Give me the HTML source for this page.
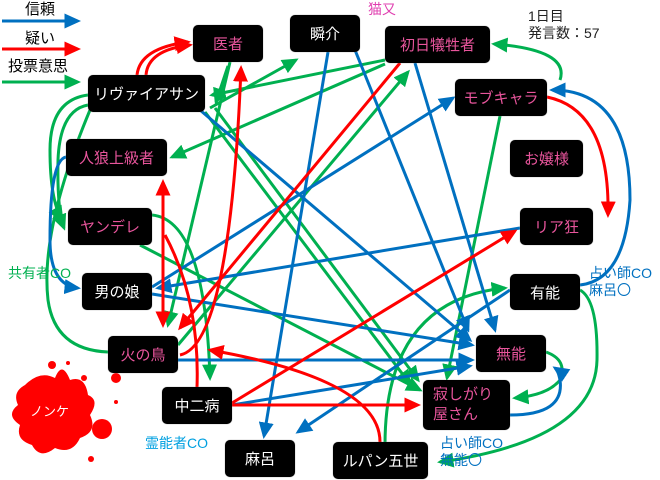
<!DOCTYPE html>
<html><head><meta charset="utf-8"><style>
html,body{margin:0;padding:0;background:#fff;}
body{width:660px;height:480px;overflow:hidden;position:relative;font-family:"Liberation Sans","Noto Sans CJK JP",sans-serif;}
svg{position:absolute;left:0;top:0;}
.n{position:absolute;background:#000;border-radius:5px;color:#fff;font-size:15px;display:flex;align-items:center;justify-content:center;box-shadow:0 0 1px #888;}
.p{color:#e8559c;}
.t{position:absolute;font-size:14px;white-space:nowrap;line-height:17px;}
</style></head><body>
<svg width="660" height="480" viewBox="0 0 660 480">
<defs>
<marker id="b" markerWidth="5.5" markerHeight="5" refX="4.5" refY="2.5" orient="auto" markerUnits="strokeWidth"><path d="M0,0L5.5,2.5L0,5z" fill="#0070c0"/></marker>
<marker id="r" markerWidth="5.5" markerHeight="5" refX="4.5" refY="2.5" orient="auto" markerUnits="strokeWidth"><path d="M0,0L5.5,2.5L0,5z" fill="#ff0000"/></marker>
<marker id="g" markerWidth="5.5" markerHeight="5" refX="4.5" refY="2.5" orient="auto" markerUnits="strokeWidth"><path d="M0,0L5.5,2.5L0,5z" fill="#00b050"/></marker>
</defs>
<g fill="#ff0000">
<path d="M25,385 Q40,370 55,378 Q62,360 70,380 Q85,375 88,395 Q100,400 90,415 Q98,432 80,438 Q72,455 55,448 Q40,460 32,445 Q15,440 20,425 Q5,415 18,405 Q12,392 25,385z"/>
<circle cx="52" cy="365" r="4"/><circle cx="84" cy="378" r="3"/><circle cx="116" cy="378" r="5"/><circle cx="102" cy="429" r="10"/><circle cx="91" cy="459" r="3"/><circle cx="68" cy="363" r="2"/><circle cx="116" cy="402" r="2"/>
</g>
<g fill="none" stroke-width="3">
<line x1="2" y1="21" x2="78" y2="21" stroke="#0070c0" marker-end="url(#b)"/>
<line x1="2" y1="49" x2="78" y2="49" stroke="#ff0000" marker-end="url(#r)"/>
<line x1="2" y1="82" x2="78" y2="82" stroke="#00b050" marker-end="url(#g)"/>
<g stroke="#00b050">
<line x1="385" y1="60" x2="212" y2="95" marker-end="url(#g)"/>
<line x1="385" y1="64" x2="172" y2="157" marker-end="url(#g)"/>
<line x1="210" y1="108" x2="296" y2="60" marker-end="url(#g)"/>
<line x1="230" y1="62" x2="168" y2="325" marker-end="url(#g)"/>
<line x1="178" y1="345" x2="408" y2="72" marker-end="url(#g)"/>
<path d="M228,66 L216,102" marker-end="url(#g)"/>
<path d="M560,80 Q570,50 494,44" marker-end="url(#g)"/>
<line x1="500" y1="116" x2="447" y2="378" marker-end="url(#g)"/>
<path d="M88,95 Q50,100 50,150 Q50,200 62,220" marker-end="url(#g)"/>
<path d="M88,105 Q60,110 58,160 Q57,210 64,228" marker-end="url(#g)"/>
<path d="M108,352 Q55,350 48,300 Q40,230 90,110"/>
<path d="M152,215 Q205,220 210,378" marker-end="url(#g)"/>
<line x1="205" y1="112" x2="410" y2="384" marker-end="url(#g)"/>
<line x1="215" y1="108" x2="418" y2="380" marker-end="url(#g)"/>
<line x1="140" y1="245" x2="420" y2="390" marker-end="url(#g)"/>
<path d="M580,290 Q598,300 597,360 Q595,440 440,462" marker-end="url(#g)"/>
<path d="M546,352 Q568,360 560,380 Q548,395 515,398" marker-end="url(#g)"/>
<path d="M385,445 Q385,300 505,288" marker-end="url(#g)"/>
</g>
<g stroke="#0070c0">
<line x1="328" y1="52" x2="264" y2="436" marker-end="url(#b)"/>
<line x1="355" y1="50" x2="468" y2="330" marker-end="url(#b)"/>
<line x1="415" y1="63" x2="495" y2="330" marker-end="url(#b)"/>
<line x1="152" y1="287" x2="453" y2="98" marker-end="url(#b)"/>
<line x1="520" y1="228" x2="158" y2="288" marker-end="url(#b)"/>
<line x1="152" y1="294" x2="472" y2="345" marker-end="url(#b)"/>
<line x1="178" y1="360" x2="472" y2="360" marker-end="url(#b)"/>
<line x1="232" y1="405" x2="470" y2="366" marker-end="url(#b)"/>
<line x1="510" y1="290" x2="298" y2="432" marker-end="url(#b)"/>
<line x1="200" y1="110" x2="470" y2="340" marker-end="url(#b)"/>
<path d="M580,285 Q625,280 630,200 Q630,90 552,90" marker-end="url(#b)"/>
<path d="M510,415 Q565,415 560,380 Q558,370 555,368" marker-end="url(#b)"/>
<path d="M66,157 Q50,160 50,240 Q50,285 78,288" marker-end="url(#b)"/>
</g>
<g stroke="#ff0000">
<path d="M137,75 Q140,48 188,42" marker-end="url(#r)"/>
<path d="M146,75 Q148,50 190,45" marker-end="url(#r)"/>
<path d="M180,355 Q230,345 241,68" marker-end="url(#r)"/>
<line x1="163" y1="190" x2="163" y2="325" marker-end="url(#r)"/>
<line x1="163" y1="240" x2="163" y2="182" marker-end="url(#r)"/>
<path d="M197,387 Q200,300 165,235"/>
<line x1="400" y1="63" x2="180" y2="328" marker-end="url(#r)"/>
<line x1="232" y1="403" x2="515" y2="231" marker-end="url(#r)"/>
<line x1="232" y1="405" x2="418" y2="405" marker-end="url(#r)"/>
<path d="M380,442 Q380,380 210,350" marker-end="url(#r)"/>
<path d="M547,97 Q610,110 608,215" marker-end="url(#r)"/>
</g>
</g>
</svg>
<div class="t" style="left:25px;top:1px;font-size:15px">信頼</div>
<div class="t" style="left:25px;top:30px;font-size:15px">疑い</div>
<div class="t" style="left:8px;top:58px;font-size:15px">投票意思</div>
<div class="n p" style="left:193px;top:25px;width:70px;height:37px">医者</div>
<div class="n" style="left:290px;top:15px;width:70px;height:37px">瞬介</div>
<div class="n p" style="left:385px;top:26px;width:105px;height:37px">初日犠牲者</div>
<div class="n" style="left:88px;top:75px;width:117px;height:37px">リヴァイアサン</div>
<div class="n p" style="left:455px;top:79px;width:92px;height:37px">モブキャラ</div>
<div class="n p" style="left:66px;top:139px;width:101px;height:37px">人狼上級者</div>
<div class="n p" style="left:510px;top:140px;width:73px;height:37px">お嬢様</div>
<div class="n p" style="left:68px;top:208px;width:84px;height:37px">ヤンデレ</div>
<div class="n p" style="left:520px;top:208px;width:73px;height:37px">リア狂</div>
<div class="n" style="left:82px;top:273px;width:70px;height:37px">男の娘</div>
<div class="n" style="left:510px;top:274px;width:70px;height:36px">有能</div>
<div class="n p" style="left:108px;top:336px;width:70px;height:37px">火の鳥</div>
<div class="n p" style="left:476px;top:335px;width:70px;height:37px">無能</div>
<div class="n" style="left:162px;top:387px;width:70px;height:37px">中二病</div>
<div class="n p" style="left:423px;top:380px;width:87px;height:50px;justify-content:flex-start;padding-left:10px;box-sizing:border-box;line-height:20px">寂しがり<br>屋さん</div>
<div class="n" style="left:225px;top:440px;width:70px;height:37px">麻呂</div>
<div class="n" style="left:333px;top:442px;width:95px;height:37px">ルパン五世</div>
<div class="t" style="left:368px;top:1px;color:#e040b0">猫又</div>
<div class="t" style="left:528px;top:8px;color:#222">1日目<br>発言数：57</div>
<div class="t" style="left:8px;top:265px;color:#00b050">共有者CO</div>
<div class="t" style="left:589px;top:265px;color:#0070c0">占い師CO<br>麻呂〇</div>
<div class="t" style="left:145px;top:435px;color:#00a0e0">霊能者CO</div>
<div class="t" style="left:440px;top:435px;color:#0070c0">占い師CO<br>無能〇</div>
<div class="t" style="left:30px;top:403px;color:#fff;font-size:13px">ノンケ</div>
</body></html>
